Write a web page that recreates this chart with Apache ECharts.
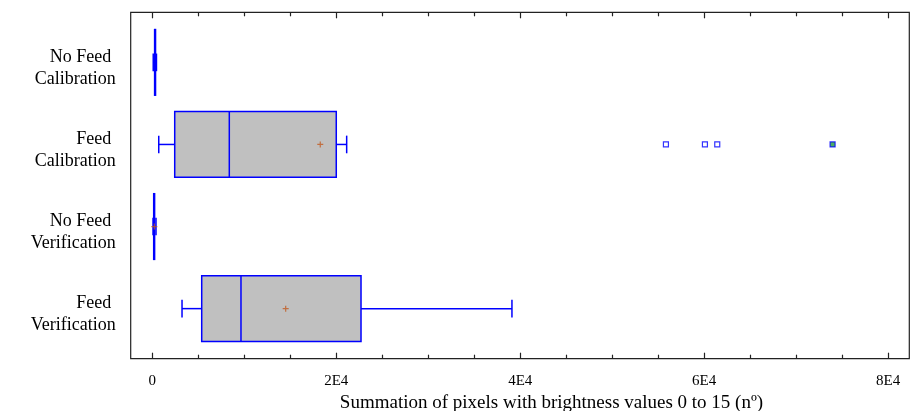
<!DOCTYPE html>
<html>
<head>
<meta charset="utf-8">
<script src="https://cdn.jsdelivr.net/npm/echarts@6/dist/echarts.min.js"></script>
<style>
  html, body { margin: 0; padding: 0; background: #fff; }
  #chart { width: 914px; height: 411px; }
</style>
</head>
<body>
<div id="chart"></div>
<script>
// groups, top to bottom
const categories = ['No Feed \nCalibration', 'Feed \nCalibration', 'No Feed \nVerification', 'Feed \nVerification']
// five-number summaries per group
const mins = [100, 700, 80, 3230]
const q1s = [250, 2435, 150, 5370]
const medians = [300, 8370, 200, 9640]
const q3s = [350, 20000, 250, 22690]
const maxs = [450, 21130, 400, 39100]
// mean markers (the first one is hidden behind its box in the source)
const means = [null, 18260, 220, 14500]
// outside points (value, group index)
const outliers = [[55840, 1], [60080, 1], [61420, 1]]
const farOutliers = [[73960, 1]]
// x axis ticks
const xMajorTicks = [0, 20000, 40000, 60000, 80000]
const xMinorTicks = [5000, 10000, 15000, 25000, 30000, 35000, 45000, 50000, 55000, 65000, 70000, 75000]

const BLUE = '#0000ff'
const FRAME = '#222'
const FONT = 'Liberation Serif'

const boxData = categories.map((c, i) => [i, mins[i], q1s[i], medians[i], q3s[i], maxs[i]])

function renderBox (params, api) {
  const idx = api.value(0)
  const lo = api.coord([api.value(1), idx])
  const q1 = api.coord([api.value(2), idx])
  const md = api.coord([api.value(3), idx])
  const q3 = api.coord([api.value(4), idx])
  const hi = api.coord([api.value(5), idx])
  const unit = api.size([0, 1])[1]
  const boxH = unit * 0.8
  const capH = unit * 0.215
  const y = lo[1]
  const line = (x1, y1, x2, y2) => ({
    type: 'line',
    shape: { x1, y1, x2, y2 },
    style: { stroke: BLUE, lineWidth: 1.5 }
  })
  return {
    type: 'group',
    children: [
      line(lo[0], y, q1[0], y),
      line(q3[0], y, hi[0], y),
      line(lo[0], y - capH / 2, lo[0], y + capH / 2),
      line(hi[0], y - capH / 2, hi[0], y + capH / 2),
      {
        type: 'rect',
        shape: { x: q1[0], y: y - boxH / 2, width: q3[0] - q1[0], height: boxH },
        style: { fill: '#c0c0c0', stroke: BLUE, lineWidth: 1.5 }
      },
      line(md[0], y - boxH / 2, md[0], y + boxH / 2)
    ]
  }
}

function xAxisDef (position, ticks, len, withLabels) {
  return {
    type: 'value',
    position,
    min: -2350,
    max: 82300,
    axisLine: { show: false, onZero: false },
    splitLine: { show: false },
    axisTick: {
      show: true,
      inside: true,
      length: len,
      customValues: ticks,
      lineStyle: { color: FRAME, width: 1.2 }
    },
    axisLabel: withLabels ? {
      show: true,
      customValues: ticks,
      margin: 15,
      color: '#000',
      fontFamily: FONT,
      fontSize: 15,
      formatter: v => (v === 0 ? '0' : (v / 10000) + 'E4')
    } : { show: false }
  }
}

const bottomMain = xAxisDef('bottom', xMajorTicks, 6, true)
bottomMain.name = 'Summation of pixels with brightness values 0 to 15 (nº)'
bottomMain.nameLocation = 'middle'
bottomMain.nameGap = 29
bottomMain.nameTextStyle = { color: '#000', fontFamily: FONT, fontSize: 19, padding: [0, 0, 0, 63] }

// category label: a spacer line on top pushes the two text lines slightly down
function categoryLabel (v) {
  const lines = categories[v].split('\n')
  return '{s| }\n' + lines.map(l => '{a|' + l + '}').join('\n')
}

const meanData = []
means.forEach((m, i) => { if (m !== null) meanData.push([m, i]) })

const myChart = echarts.init(document.getElementById('chart'))
myChart.setOption({
  animation: false,
  backgroundColor: '#fff',
  grid: {
    left: 130.7,
    right: 4.7,
    top: 12.3,
    bottom: 52.3,
    outerBoundsMode: 'none',
    containLabel: false,
    show: true,
    borderColor: FRAME,
    borderWidth: 1.2,
    backgroundColor: 'transparent'
  },
  xAxis: [
    bottomMain,
    xAxisDef('bottom', xMinorTicks, 4, false),
    xAxisDef('top', xMajorTicks, 6, false),
    xAxisDef('top', xMinorTicks, 4, false)
  ],
  yAxis: {
    type: 'value',
    min: -0.61,
    max: 3.61,
    inverse: true,
    axisLine: { show: false, onZero: false },
    axisTick: { show: false },
    splitLine: { show: false },
    axisLabel: {
      customValues: [0, 1, 2, 3],
      formatter: categoryLabel,
      align: 'right',
      margin: 15,
      rich: {
        a: { color: '#000', fontFamily: FONT, fontSize: 18, lineHeight: 22, align: 'right' },
        s: { fontSize: 8, lineHeight: 11 }
      }
    }
  },
  series: [
    {
      type: 'custom',
      renderItem: renderBox,
      data: boxData,
      encode: { x: [1, 2, 3, 4, 5], y: 0 },
      z: 2
    },
    {
      type: 'scatter',
      data: meanData,
      symbol: 'path://M2,0H3V5H2Z M0,2H5V3H0Z',
      symbolSize: 6,
      itemStyle: { color: '#c05a20' },
      z: 3
    },
    {
      type: 'scatter',
      data: outliers,
      symbol: 'rect',
      symbolSize: 5,
      itemStyle: { color: '#fff', borderColor: BLUE, borderWidth: 1.2 },
      z: 3
    },
    {
      type: 'scatter',
      data: farOutliers,
      symbol: 'rect',
      symbolSize: 5,
      itemStyle: { color: '#1f9a3c', borderColor: BLUE, borderWidth: 1.2 },
      z: 3
    }
  ]
})
</script>
</body>
</html>
